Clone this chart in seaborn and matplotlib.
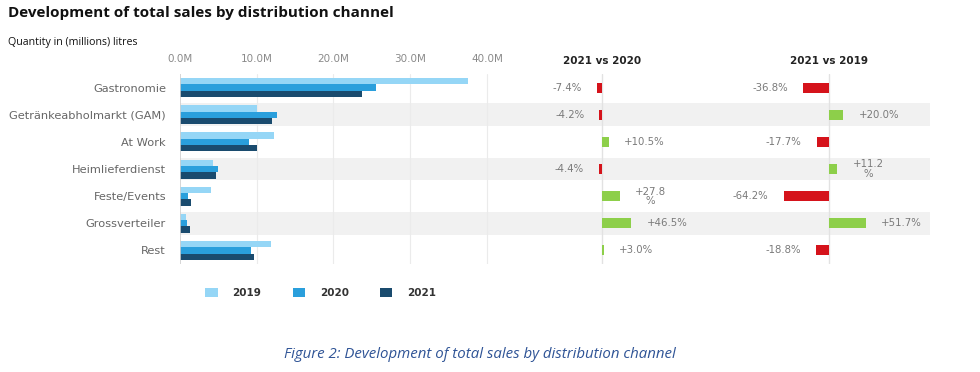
import pandas as pd
import matplotlib
matplotlib.use("Agg")
import matplotlib.pyplot as plt
import seaborn as sns

# data
channels = ["Gastronomie", "Getränkeabholmarkt (GAM)", "At Work", "Heimlieferdienst",
            "Feste/Events", "Grossverteiler", "Rest"]
sales_2019 = [37.5, 10.0, 12.2, 4.3, 4.1, 0.8, 11.9]
sales_2020 = [25.6, 12.6, 9.0, 5.0, 1.0, 0.9, 9.3]
sales_2021 = [23.7, 12.0, 10.0, 4.7, 1.4, 1.3, 9.6]
chg_vs_2020 = [-7.4, -4.2, 10.5, -4.4, 27.8, 46.5, 3.0]
chg_vs_2019 = [-36.8, 20.0, -17.7, 11.2, -64.2, 51.7, -18.8]
lbl_vs_2020 = ["-7.4%", "-4.2%", "+10.5%", "-4.4%", "+27.8\n%", "+46.5%", "+3.0%"]
lbl_vs_2019 = ["-36.8%", "+20.0%", "-17.7%", "+11.2\n%", "-64.2%", "+51.7%", "-18.8%"]
years = ["2019", "2020", "2021"]
ticks = [0, 10, 20, 30, 40]
tick_labels = ["0.0M", "10.0M", "20.0M", "30.0M", "40.0M"]

year_colors = ["#95d6f6", "#2a9fdc", "#1a4b6e"]
RED, GREEN = "#d5131b", "#8dcf4a"
BAND = "#f1f1f1"

df = pd.DataFrame({
    "channel": channels * 3,
    "year": [y for y in years for _ in channels],
    "sales": sales_2019 + sales_2020 + sales_2021,
})

sns.set_style("white")
plt.rcParams["font.family"] = ["DejaVu Sans"]

W, H = 980, 372
fig = plt.figure(figsize=(W / 100, H / 100), dpi=100)


def fig_box(x0, x1, y0, y1):
    return [x0 / W, 1 - y1 / H, (x1 - x0) / W, (y1 - y0) / H]


def bands(ax):
    for i in (1, 3, 5):
        ax.axhspan(i - 0.42, i + 0.42, color=BAND, zorder=0, lw=0)


# main bars
ax = fig.add_axes(fig_box(180, 520, 74, 264))
bands(ax)
sns.barplot(data=df, x="sales", y="channel", hue="year", palette=year_colors,
            saturation=1, width=0.7, orient="h", linewidth=0, ax=ax, zorder=3)
ax.set_xlim(0, 44.3)
ax.set_ylim(6.5, -0.5)
for t in ticks[1:]:
    ax.axvline(t, color="#ebebeb", lw=0.8, zorder=1)
ax.axvline(0, color="#cfcfcf", lw=1.2, zorder=4)
ax.xaxis.tick_top()
ax.set_xticks(ticks)
ax.set_xticklabels(tick_labels)
ax.tick_params(axis="x", length=0, pad=7, labelsize=7.5, labelcolor="#8a8a8a")
ax.tick_params(axis="y", length=0, pad=10, labelsize=8.2, labelcolor="#666666")
ax.set_xlabel("")
ax.set_ylabel("")
for s in ax.spines.values():
    s.set_visible(False)

sns.move_legend(ax, "center left", bbox_to_anchor=(196 / W, 1 - 293 / H),
                bbox_transform=fig.transFigure, ncol=3, frameon=False, title=None,
                fontsize=7.5, handlelength=1.2, handleheight=0.9,
                handletextpad=1.4, columnspacing=3.0)
for txt in ax.get_legend().get_texts():
    txt.set_fontweight("bold")
    txt.set_color("#333333")


def change_panel(box, xlim, vals, labels, title):
    cx = fig.add_axes(box)
    bands(cx)
    cols = [GREEN if v >= 0 else RED for v in vals]
    sns.barplot(x=vals, y=channels, hue=channels, palette=cols, legend=False,
                saturation=1, width=0.37, orient="h", linewidth=0, ax=cx, zorder=3)
    cx.set_xlim(*xlim)
    cx.set_ylim(6.5, -0.5)
    cx.axvline(0, color="#e2e2e2", lw=1.0, zorder=2)
    cx.set_xticks([])
    cx.set_yticks([])
    cx.set_xlabel("")
    cx.set_ylabel("")
    for s in cx.spines.values():
        s.set_visible(False)
    for i, (v, lab) in enumerate(zip(vals, labels)):
        off = 11 if v >= 0 else -11
        cx.annotate(lab, (v, i), xytext=(off, 0), textcoords="offset points",
                    ha="left" if v >= 0 else "right", va="center",
                    multialignment="center", fontsize=7.3, color="#7a7a7a",
                    linespacing=0.9)
    cx.text(0, -0.8, title, ha="center", va="bottom",
            fontsize=7.5, fontweight="bold", color="#222222")
    return cx


change_panel(fig_box(520, 705, 74, 264), (-130, 163), chg_vs_2020, lbl_vs_2020, "2021 vs 2020")
change_panel(fig_box(705, 930, 74, 264), (-175, 142), chg_vs_2019, lbl_vs_2019, "2021 vs 2019")

fig.text(8 / W, 1 - 13 / H, "Development of total sales by distribution channel",
         fontsize=11.0, fontweight="bold", family=["Open Sans"], color="#111111",
         ha="left", va="center")
fig.text(8 / W, 1 - 43 / H, "Quantity in (millions) litres", fontsize=7.7,
         family=["Open Sans"], color="#111111", ha="left", va="center")
fig.text(480 / W, 1 - 355 / H, "Figure 2: Development of total sales by distribution channel",
         fontsize=10.8, style="italic", family=["Open Sans"], color="#2f5496",
         ha="center", va="center")

fig.savefig("out.png", dpi=100)
